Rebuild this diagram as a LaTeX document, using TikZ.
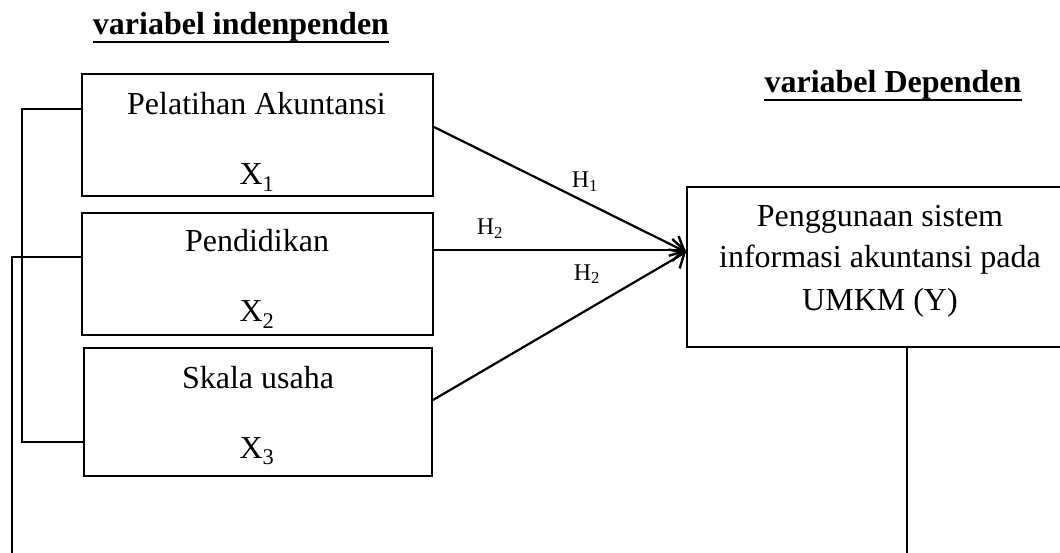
\documentclass[tikz,border=0pt]{standalone}
\usepackage{fontspec}
\setmainfont{Liberation Serif}
\usetikzlibrary{arrows.meta}
\newcommand{\ulx}[1]{\tikz[baseline=(u.base)]{\node[inner sep=0pt] (u) {#1};\draw[line width=2.2pt] ([yshift=-7pt]u.base west) -- ([yshift=-7pt]u.base east);}}
\begin{document}
\begin{tikzpicture}[x=1pt,y=-1pt,
  box/.style={draw, line width=2pt, inner sep=0pt},
  txt/.style={anchor=base, inner sep=0pt, font=\fontsize{32}{38}\selectfont},
  ttl/.style={anchor=base, inner sep=0pt, font=\fontsize{32}{38}\selectfont\bfseries},
  hl/.style={anchor=base, inner sep=0pt, font=\fontsize{24}{28}\selectfont},
  ln/.style={line width=1.8pt},
  arr/.style={line width=2.2pt, -{Straight Barb[length=12pt,width=22pt,line width=2.4pt]}}]
\useasboundingbox (0,0) rectangle (1060,553);
% titles
\node[ttl] (t1) at (241,35) {\ulx{variabel indenpenden}};
\node[ttl] (t2) at (893,93) {\ulx{variabel Dependen}};
% boxes
\node[box, minimum width=351pt, minimum height=122pt] (b1) at (257.5,135) {};
\node[box, minimum width=351pt, minimum height=122pt] (b2) at (257.5,274) {};
\node[box, minimum width=348pt, minimum height=128pt] (b3) at (258,412) {};
\node[box, minimum width=386pt, minimum height=160pt] (bY) at (880,267) {};
% box texts
\node[txt] (p1) at (256.5,115) {Pelatihan Akuntansi};
\node[txt] (x1) at (257,185) {X\textsubscript{1}};
\node[txt] (p2) at (257,252) {Pendidikan};
\node[txt] (x2) at (257,322) {X\textsubscript{2}};
\node[txt] (p3) at (258,388) {Skala usaha};
\node[txt] (x3) at (257,458) {X\textsubscript{3}};
\node[txt] (y1) at (880,227) {Penggunaan sistem};
\node[txt] (y2) at (880,268) {informasi akuntansi pada};
\node[txt] (y3) at (880,310) {UMKM (Y)};
% hypothesis labels
\node[hl] (h1) at (585,188) {H\textsubscript{1}};
\node[hl] (h2) at (490,235) {H\textsubscript{2}};
\node[hl] (h3) at (587,280) {H\textsubscript{2}};
% arrows
\coordinate (tip) at ([yshift=15pt]bY.west);
\draw[arr] ([yshift=8pt]b1.east) -- (tip);
\draw[arr] ([yshift=24pt]b2.east) coordinate (s2) -- (s2 -| tip);
\draw[arr] ([yshift=12pt]b3.east) -- (tip);
% left connectors
\draw[ln] ([yshift=26pt]b1.west) -- ++(-59,0) |- ([yshift=-30pt]b3.west);
\coordinate (e2) at (12,556);
\draw[ln] ([yshift=17pt]b2.west) -| (e2);
\coordinate (eY) at (907,556);
\draw[ln] (bY.south -| eY) -- (eY);
\end{tikzpicture}
\end{document}
